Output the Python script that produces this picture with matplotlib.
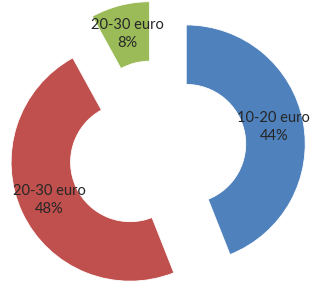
import matplotlib
matplotlib.use("Agg")
import matplotlib.pyplot as plt

categories = ["10-20 euro", "20-30 euro", "20-30 euro"]
values = [44, 48, 8]
colors = ["#4F81BD", "#C0504D", "#9BBB59"]

plt.rcParams['font.family'] = ['Lato', 'DejaVu Sans']

fig = plt.figure(figsize=(3.12, 2.85), dpi=100)
ax = fig.add_axes([0, 0, 1, 1])
wedges, texts, autotexts = ax.pie(
    values, colors=colors, startangle=90, counterclock=False,
    explode=[0.25] * len(values), radius=1.0,
    wedgeprops=dict(width=0.5, edgecolor="white", linewidth=0.6),
    autopct='%1.0f%%', pctdistance=0.75,
    textprops=dict(fontsize=10.5, color="#262626"))
for t, lab in zip(autotexts, categories):
    t.set_text(f"{lab}\n{t.get_text()}")
    t.set_linespacing(1.35)
ax.set_aspect('equal')
ax.set_xlim(-157 / 119, (312 - 157) / 119)
ax.set_ylim(-135.5 / 119, 149.5 / 119)
ax.axis('off')
fig.savefig("out.png", dpi=100)
